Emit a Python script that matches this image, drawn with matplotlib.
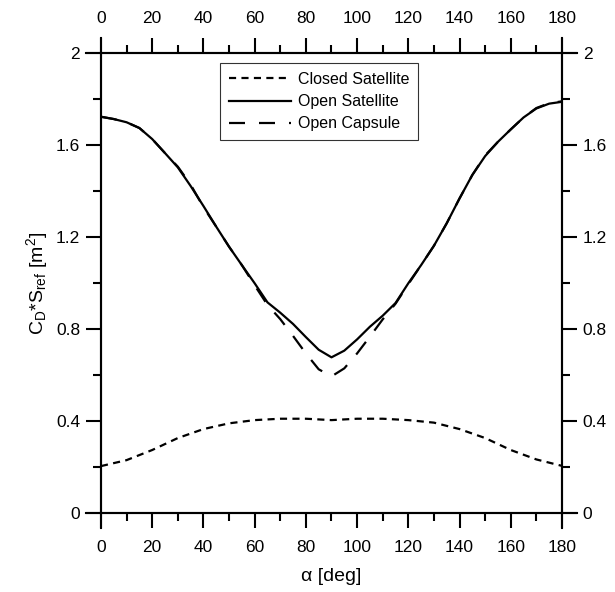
import numpy as np
import matplotlib.pyplot as plt
from matplotlib.ticker import MultipleLocator, FuncFormatter

plt.rcParams['font.family'] = ['Liberation Sans', 'DejaVu Sans']
plt.rcParams['mathtext.default'] = 'regular'

# closed satellite, read every 10 deg
alpha_c = [0, 10, 20, 30, 40, 50, 60, 70, 80, 90, 100, 110, 120, 130, 140, 150, 160, 170, 180]
closed_sat = [0.204, 0.23, 0.274, 0.326, 0.365, 0.39, 0.404, 0.41, 0.41, 0.404, 0.41,
              0.41, 0.404, 0.393, 0.365, 0.326, 0.274, 0.233, 0.205]

# open satellite / open capsule, read every 5 deg
alpha_o = [0, 5, 10, 15, 20, 25, 30, 35, 40, 45, 50, 55, 60, 65, 70, 75, 80, 85, 90,
           95, 100, 105, 110, 115, 120, 125, 130, 135, 140, 145, 150, 155, 160, 165, 170, 175, 180]
open_sat = [1.723, 1.713, 1.699, 1.674, 1.626, 1.565, 1.503, 1.422, 1.335, 1.245, 1.158, 1.078,
            0.999, 0.916, 0.871, 0.822, 0.765, 0.71, 0.677,
            0.706, 0.755, 0.81, 0.858, 0.913, 0.999, 1.078, 1.162, 1.26, 1.368, 1.47, 1.552,
            1.614, 1.668, 1.72, 1.759, 1.78, 1.788]
open_cap = [1.723, 1.713, 1.699, 1.674, 1.626, 1.565, 1.506, 1.428, 1.33, 1.245, 1.158, 1.078,
            0.99, 0.905, 0.843, 0.77, 0.694, 0.625, 0.594,
            0.629, 0.694, 0.767, 0.842, 0.91, 0.995, 1.078, 1.162, 1.26, 1.368, 1.47, 1.555,
            1.614, 1.668, 1.72, 1.761, 1.782, 1.79]

fig = plt.figure(figsize=(6.15, 5.92), dpi=100)
ax = fig.add_axes([0.1642, 0.1334, 0.7496, 0.777])

ax.plot(alpha_c, closed_sat, color='black', lw=1.6, dashes=(3.2, 2.4), label='Closed Satellite')
ax.plot(alpha_o, open_sat, color='black', lw=1.6, label='Open Satellite')
ax.plot(alpha_o, open_cap, color='black', lw=1.6, dashes=(7.2, 6.3), label='Open Capsule')

ax.set_xlim(0, 180)
ax.set_ylim(0, 2)
ax.xaxis.set_major_locator(MultipleLocator(20))
ax.xaxis.set_minor_locator(MultipleLocator(10))
ax.yaxis.set_major_locator(MultipleLocator(0.4))
ax.yaxis.set_minor_locator(MultipleLocator(0.2))
ax.yaxis.set_major_formatter(FuncFormatter(lambda v, p: f'{v:g}'))

ax.tick_params(which='both', direction='out', top=True, right=True,
               labeltop=True, labelright=True, width=1.5, labelsize=12.5, colors='black')
ax.tick_params(which='major', length=11)
ax.tick_params(which='minor', length=5.5)
ax.tick_params(axis='x', which='major', pad=8.5)
ax.tick_params(axis='y', which='major', pad=4)

for s in ax.spines.values():
    s.set_linewidth(1.5)

# axis lines run past the corners like the original
ex = 15 / 461
ey = 15 / 460
for xs, ys in [([-ex, 1 + ex], [0, 0]), ([-ex, 1 + ex], [1, 1]),
               ([0, 0], [-ey, 1 + ey]), ([1, 1], [-ey, 1 + ey])]:
    ax.plot(xs, ys, color='black', lw=1.5, transform=ax.transAxes, clip_on=False)

ax.set_xlabel('α [deg]', fontsize=14, labelpad=9)
ax.set_ylabel(r'C$_D$*S$_{ref}$ [m$^2$]', fontsize=14, labelpad=4)

leg = ax.legend(loc='upper left', bbox_to_anchor=(0.258, 0.978), fontsize=11.5, frameon=True,
                fancybox=False, edgecolor='black', handlelength=3.9, handletextpad=0.45,
                borderpad=0.55, labelspacing=0.45, borderaxespad=0)
leg.get_frame().set_linewidth(0.8)

plt.savefig('out.png', dpi=100)
